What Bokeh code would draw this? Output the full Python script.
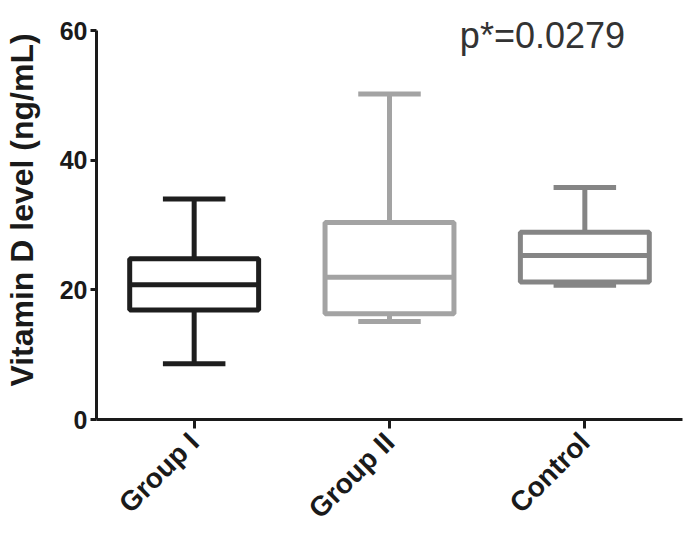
import math
from bokeh.plotting import figure
from bokeh.models import ColumnDataSource, FactorRange, Range1d, Label
from bokeh.transform import dodge
from bokeh.embed import file_html
from bokeh.resources import INLINE

# ---- data ----
groups = ["Group I", "Group II", "Control"]
lower = [8.6, 15.1, 20.7]
q1 = [16.9, 16.3, 21.2]
median = [20.8, 21.95, 25.3]
q3 = [24.8, 30.4, 28.9]
upper = [34.0, 50.2, 35.8]
colors = ["#1e1e1e", "#a3a3a3", "#858585"]
y_ticks = [0, 20, 40, 60]
p_text = "p*=0.0279"
y_label = "Vitamin D level (ng/mL)"

FONT = "Liberation Sans"
AX = "#1a1a1a"

src = ColumnDataSource(dict(group=groups, lower=lower, q1=q1, median=median,
                            q3=q3, upper=upper, color=colors))

p = figure(x_range=FactorRange(factors=groups, range_padding=0),
           y_range=Range1d(0, 64.63),
           width=688, height=539,
           min_border_left=95, min_border_right=6,
           min_border_top=0, min_border_bottom=120,
           output_backend="svg", toolbar_location=None)

p.outline_line_color = None
p.xgrid.grid_line_color = None
p.ygrid.grid_line_color = None
p.background_fill_color = "white"

xr = p.x_range
# whiskers
p.segment(x0="group", y0="q3", x1="group", y1="upper", source=src,
          line_color="color", line_width=5)
p.segment(x0="group", y0="q1", x1="group", y1="lower", source=src,
          line_color="color", line_width=5)
# caps
p.segment(x0=dodge("group", -0.16, range=xr), y0="upper",
          x1=dodge("group", 0.16, range=xr), y1="upper", source=src,
          line_color="color", line_width=5)
p.segment(x0=dodge("group", -0.16, range=xr), y0="lower",
          x1=dodge("group", 0.16, range=xr), y1="lower", source=src,
          line_color="color", line_width=5)
# boxes
p.vbar(x="group", width=0.66, bottom="q1", top="q3", source=src,
       fill_color="white", line_color="color", line_width=5)
# medians
p.segment(x0=dodge("group", -0.33, range=xr), y0="median",
          x1=dodge("group", 0.33, range=xr), y1="median", source=src,
          line_color="color", line_width=5)

# axes
for ax in (p.xaxis[0], p.yaxis[0]):
    ax.axis_line_color = AX
    ax.axis_line_width = 3
    ax.major_tick_line_color = AX
    ax.major_tick_line_width = 3
    ax.major_tick_in = 0
    ax.minor_tick_line_color = None
    ax.major_label_text_font = FONT
    ax.major_label_text_font_style = "bold"
    ax.major_label_text_color = AX

p.yaxis.ticker = y_ticks
p.yaxis.bounds = (0, 60)
p.yaxis.major_tick_out = 6
p.yaxis.major_label_standoff = 3
p.yaxis.major_label_text_font_size = "25px"
p.yaxis.axis_label = y_label
p.yaxis.axis_label_text_font = FONT
p.yaxis.axis_label_text_font_style = "bold"
p.yaxis.axis_label_text_font_size = "32px"
p.yaxis.axis_label_text_color = AX
p.yaxis.axis_label_standoff = 17

p.xaxis.major_tick_out = 9
p.xaxis.major_label_standoff = 9
p.xaxis.major_label_orientation = math.pi / 4
p.xaxis.major_label_text_font_size = "28px"

p.add_layout(Label(x=2.283, y=59.2, text=p_text, text_align="center",
                   text_baseline="alphabetic", text_font=FONT,
                   text_font_size="36px", text_color="#333333"))

open("out.html", "w").write(file_html(p, INLINE))
